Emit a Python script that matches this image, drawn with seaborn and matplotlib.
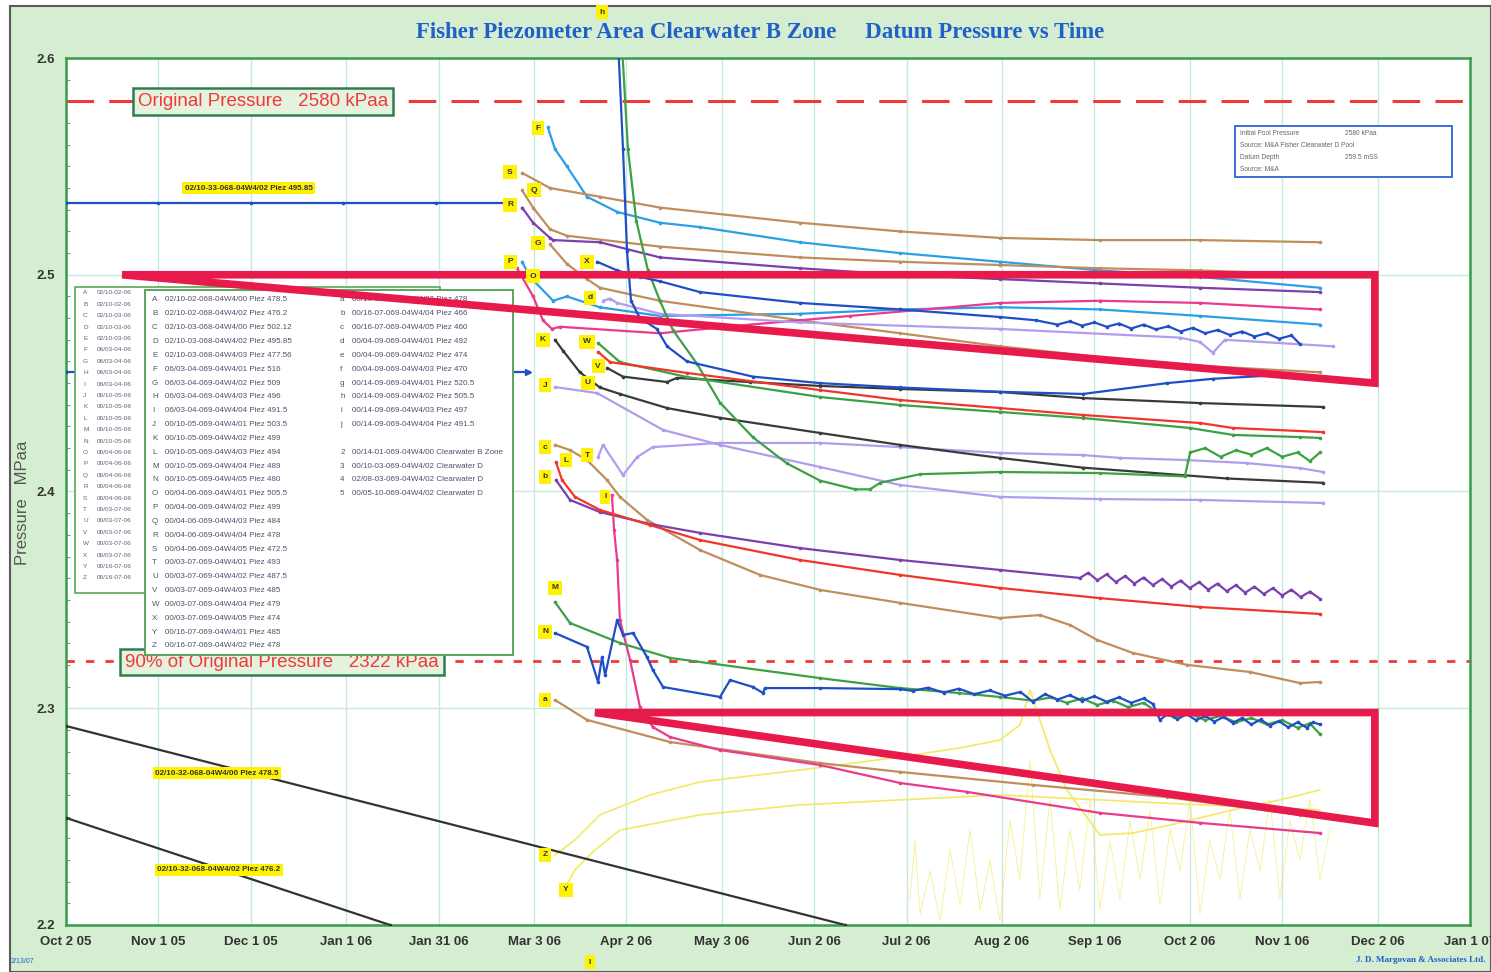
import pandas as pd
import matplotlib.pyplot as plt
import seaborn as sns
from matplotlib.patches import Rectangle, Polygon
from matplotlib.ticker import MultipleLocator

sns.set_style('white')
plt.rcParams['font.family'] = ['Liberation Sans', 'DejaVu Sans']

# eixo x: dias desde 2 Out 2005 ; eixo y: pressao em MPa
TICK_DIAS = [0, 30, 60, 91, 121, 152, 182, 213, 243, 273, 304, 334, 365, 395, 426, 456]
TICK_ROTULOS = ['Oct 2 05', 'Nov 1 05', 'Dec 1 05', 'Jan 1 06', 'Jan 31 06', 'Mar 3 06', 'Apr 2 06',
                'May 3 06', 'Jun 2 06', 'Jul 2 06', 'Aug 2 06', 'Sep 1 06', 'Oct 2 06', 'Nov 1 06',
                'Dec 2 06', 'Jan 1 07']

F_DIA = [156.5, 158.8, 162.7, 169.2, 179.0, 192.9, 205.9, 238.4, 270.9, 303.3, 335.8, 368.3, 407.3]
F_MPA = [2.568, 2.558, 2.550, 2.536, 2.529, 2.524, 2.522, 2.515, 2.510, 2.506, 2.502, 2.499, 2.494]

S_DIA = [148.1, 157.2, 173.4, 192.9, 238.4, 270.9, 303.3, 335.8, 368.3, 407.3]
S_MPA = [2.547, 2.540, 2.536, 2.531, 2.524, 2.520, 2.517, 2.516, 2.516, 2.515]

Q_DIA = [148.1, 151.7, 157.2, 162.7, 192.9, 238.4, 270.9, 303.3, 335.8, 368.3, 407.3]
Q_MPA = [2.539, 2.531, 2.521, 2.518, 2.513, 2.508, 2.506, 2.5045, 2.503, 2.502, 2.500]

R_DIA = [148.1, 151.7, 157.2, 158.2, 173.4, 192.9, 238.4, 270.9, 303.3, 335.8, 368.3, 407.3]
R_MPA = [2.531, 2.524, 2.517, 2.516, 2.515, 2.508, 2.503, 2.500, 2.498, 2.496, 2.494, 2.492]

G_DIA = [157.2, 162.7, 169.2, 173.4, 192.9, 238.4, 270.9, 303.3, 335.8, 368.3, 407.3]
G_MPA = [2.514, 2.505, 2.498, 2.494, 2.488, 2.479, 2.473, 2.467, 2.462, 2.458, 2.455]

P_DIA = [148.1, 150.7, 158.2, 162.7, 173.4, 192.9, 238.4, 270.9, 303.3, 335.8, 368.3, 407.3]
P_MPA = [2.506, 2.499, 2.488, 2.490, 2.485, 2.481, 2.482, 2.484, 2.485, 2.484, 2.481, 2.477]

O_DIA = [146.5, 151.7, 154.9, 157.8, 160.4, 192.9, 222.2, 254.6, 303.3, 335.8, 368.3, 407.3]
O_MPA = [2.503, 2.490, 2.479, 2.475, 2.476, 2.473, 2.477, 2.481, 2.487, 2.488, 2.487, 2.484]

X_DIA = [172.5, 179.0, 186.4, 192.9, 205.9, 238.4, 270.9, 303.3, 315, 322, 326, 330, 334, 338, 342,
         346, 350, 354, 358, 362, 366, 370, 374, 378, 382, 386, 390, 394, 398, 400.8]
X_MPA = [2.506, 2.502, 2.499, 2.497, 2.492, 2.487, 2.484, 2.4805, 2.479, 2.477, 2.4785, 2.4765, 2.478,
         2.476, 2.4775, 2.4752, 2.477, 2.4748, 2.4762, 2.4738, 2.4755, 2.473, 2.4745, 2.4722, 2.4738,
         2.4715, 2.473, 2.4705, 2.472, 2.468]

d_DIA = [174.4, 176.7, 179.0, 192.9, 238.4, 303.3, 361.8, 368.3, 372.5, 376.4, 411.5]
d_MPA = [2.488, 2.489, 2.487, 2.482, 2.478, 2.475, 2.471, 2.469, 2.464, 2.470, 2.467]

h_DIA = [178.9, 180.9, 182.2, 183.5, 186.4, 191.9, 195.2, 201.7, 223.1, 244.9, 270.9, 303.3, 330.3,
         357.6, 372.5, 397.5]
h_MPA = [2.620, 2.558, 2.511, 2.488, 2.480, 2.475, 2.467, 2.460, 2.453, 2.450, 2.448, 2.446, 2.445,
         2.450, 2.452, 2.454]

g_DIA = [180.0, 182.5, 185.2, 189.0, 192.9, 197.1, 204.9, 212.4, 223.1, 234.1, 244.9, 256.3, 261.1,
         264.4, 277.4, 303.3, 335.8, 363.4, 365.1, 370, 375, 380, 385, 390, 395, 400, 404, 407.3]
g_MPA = [2.620, 2.558, 2.525, 2.502, 2.488, 2.4745, 2.459, 2.441, 2.425, 2.413, 2.405, 2.401, 2.401,
         2.404, 2.408, 2.409, 2.4085, 2.407, 2.418, 2.420, 2.416, 2.419, 2.417, 2.420, 2.416, 2.418,
         2.414, 2.418]

K_DIA = [158.8, 161.4, 166.9, 173.4, 179.9, 195.2, 212.4, 244.9, 270.9, 303.3, 330.3, 377.1, 408.3]
K_MPA = [2.470, 2.465, 2.455, 2.448, 2.445, 2.4385, 2.434, 2.427, 2.4215, 2.4155, 2.411, 2.406, 2.404]

V_DIA = [175.7, 180.9, 195.2, 198.4, 222.2, 244.9, 270.9, 303.3, 330.3, 368.3, 408.3]
V_MPA = [2.457, 2.453, 2.4505, 2.4524, 2.4505, 2.4487, 2.4473, 2.4459, 2.4431, 2.4408, 2.439]

W_DIA = [172.8, 179.9, 201.7, 244.9, 270.9, 303.3, 330.3, 365.1, 379.0, 400.8, 407.3]
W_MPA = [2.4685, 2.4597, 2.4528, 2.4436, 2.4399, 2.4367, 2.4339, 2.4293, 2.4261, 2.4251, 2.4247]

VERM_DIA = [172.8, 176.7, 201.7, 244.9, 270.9, 303.3, 330.3, 368.3, 379.0, 408.3]
VERM_MPA = [2.4644, 2.4597, 2.4547, 2.4468, 2.4422, 2.4385, 2.4353, 2.4316, 2.4293, 2.4274]

J_DIA = [158.8, 172.5, 193.9, 212.4, 244.9, 270.9, 303.3, 335.8, 368.3, 408.3]
J_MPA = [2.4482, 2.4454, 2.4284, 2.4215, 2.4113, 2.4030, 2.3975, 2.3965, 2.3961, 2.3947]

T_DIA = [172.8, 174.4, 180.9, 185.5, 190.6, 212.4, 244.9, 270.9, 303.3, 330.3, 342.3, 364.1, 383.6,
         400.8, 408.3]
T_MPA = [2.4159, 2.4215, 2.4076, 2.4159, 2.4205, 2.4224, 2.4224, 2.4205, 2.4178, 2.4168, 2.4155,
         2.4145, 2.4131, 2.4108, 2.4090]

c_DIA = [158.8, 163.7, 169.2, 175.7, 179.9, 188.7, 205.9, 225.4, 244.9, 270.9, 303.3, 316.3, 326.1,
         334.9, 346.5, 364.1, 384.6, 400.8, 407.3]
c_MPA = [2.4215, 2.4191, 2.4145, 2.4053, 2.3975, 2.3869, 2.3730, 2.3615, 2.3546, 2.3486, 2.3416,
         2.3430, 2.3384, 2.3315, 2.3255, 2.3200, 2.3167, 2.3116, 2.3121]

L_DIA = [159.1, 161.1, 165.3, 173.4, 189.7, 205.9, 238.4, 270.9, 303.3, 335.8, 368.3, 407.3]
L_MPA = [2.4136, 2.4053, 2.3975, 2.3915, 2.3845, 2.3776, 2.3684, 2.3615, 2.3555, 2.3508, 2.3467,
         2.3435]

b_DIA = [159.1, 163.7, 173.4, 189.7, 205.9, 238.4, 270.9, 303.3, 329.3, 332, 335, 338, 341, 344, 347,
         350, 353, 356, 359, 362, 365, 368, 371, 374, 377, 380, 383, 386, 389, 392, 395, 398, 401,
         404, 407.3]
b_MPA = [2.4053, 2.3961, 2.3905, 2.3850, 2.3809, 2.3739, 2.3684, 2.3638, 2.3601, 2.3625, 2.3590,
         2.3618, 2.3582, 2.3610, 2.3575, 2.3603, 2.3568, 2.3596, 2.3561, 2.3589, 2.3554, 2.3582,
         2.3547, 2.3575, 2.3540, 2.3568, 2.3533, 2.3561, 2.3527, 2.3554, 2.3520, 2.3547, 2.3513,
         2.3538, 2.3505]

I_DIA = [177.3, 178.0, 179.0, 179.9, 183.2, 186.4, 190.6, 196.2, 212.4, 244.9, 270.9, 292.6, 335.8,
         368.3, 407.3]
I_MPA = [2.3984, 2.3822, 2.3684, 2.3407, 2.3223, 2.3006, 2.2913, 2.2867, 2.2807, 2.2738, 2.2655,
         2.2614, 2.2517, 2.2471, 2.2424]

M_DIA = [158.8, 163.7, 179.9, 196.2, 244.9, 270.9, 290, 303.3, 314, 320, 325, 330, 335, 340, 345,
         350, 355, 360, 365, 370, 375, 380, 385, 390, 395, 400, 404, 407.3]
M_MPA = [2.3490, 2.3393, 2.3301, 2.3232, 2.3139, 2.3093, 2.3070, 2.3052, 2.3035, 2.3050, 2.3025,
         2.3045, 2.3015, 2.3035, 2.3005, 2.3025, 2.2975, 2.2960, 2.2975, 2.2945, 2.2965, 2.2935,
         2.2955, 2.2925, 2.2945, 2.2910, 2.2930, 2.2880]

N_DIA = [158.8, 169.2, 172.8, 174.1, 175.1, 179.0, 180.9, 184.2, 188.7, 190.6, 193.9, 212.4, 215.7,
         223.1, 226.4, 227.0, 244.9, 270.9, 275, 280, 285, 290, 295, 300, 305, 310, 314, 318, 322,
         326, 330, 334, 338, 342, 346, 350, 353, 355.3, 358, 361, 364, 367, 370, 373, 376, 379, 382,
         385, 388, 391, 394, 397, 400, 403, 405, 407.3]
N_MPA = [2.3347, 2.3283, 2.3121, 2.3236, 2.3153, 2.3407, 2.3338, 2.3347, 2.3236, 2.3176, 2.3098,
         2.3052, 2.3130, 2.3098, 2.3070, 2.3093, 2.3093, 2.3088, 2.3080, 2.3095, 2.3072, 2.3090,
         2.3065, 2.3082, 2.3058, 2.3075, 2.3030, 2.3065, 2.3040, 2.3060, 2.3035, 2.3055, 2.3030,
         2.3050, 2.3025, 2.3045, 2.3020, 2.2946, 2.2975, 2.2950, 2.2972, 2.2945, 2.2965, 2.2938,
         2.2960, 2.2932, 2.2955, 2.2925, 2.2948, 2.2920, 2.2940, 2.2912, 2.2935, 2.2910, 2.2935,
         2.2925]

a_DIA = [158.8, 169.2, 196.2, 244.9, 270.9, 314.1, 357.6, 400.8, 407.3]
a_MPA = [2.3038, 2.2946, 2.2844, 2.2747, 2.2706, 2.2646, 2.2590, 2.2508, 2.2508]

Z_DIA = [158.8, 165.3, 173.4, 189.7, 205.9, 238.4, 270.9, 290.4, 303.3, 309.8, 313.1, 316.3, 319.6,
         325.1, 335.8, 346.5, 358.6, 379.0, 394.3, 407.3]
Z_MPA = [2.2323, 2.2392, 2.2508, 2.2600, 2.2660, 2.2715, 2.2775, 2.2817, 2.2853, 2.2923, 2.3084,
         2.2946, 2.2807, 2.2623, 2.2415, 2.2424, 2.2461, 2.2531, 2.2577, 2.2623]

Y_DIA = [162.1, 165.3, 171.8, 179.9, 205.9, 238.4, 270.9, 303.3, 335.8, 368.3, 407.3]
Y_MPA = [2.2171, 2.2254, 2.2346, 2.2438, 2.2508, 2.2554, 2.2577, 2.2600, 2.2577, 2.2554, 2.2531]

RUIDO_DIA = [274.1, 275.7, 277.4, 280.6, 283.9, 287.1, 290.4, 293.6, 296.9, 300.1, 303.3, 306.6,
             309.8, 313.1, 316.3, 319.6, 322.8, 326.1, 329.3, 332.6, 335.8, 339.1, 342.3, 345.6,
             348.8, 352.1, 355.3, 358.6, 361.8, 365.1, 368.3, 371.5, 374.8, 378.0, 381.3, 384.5,
             387.8, 391.0, 394.3, 397.5, 400.8, 404.0, 407.3, 410.5]
RUIDO_MPA = [2.212, 2.239, 2.205, 2.225, 2.202, 2.235, 2.209, 2.244, 2.207, 2.230, 2.202, 2.248,
             2.221, 2.276, 2.212, 2.258, 2.207, 2.244, 2.216, 2.258, 2.207, 2.239, 2.212, 2.248,
             2.221, 2.253, 2.209, 2.244, 2.225, 2.258, 2.205, 2.239, 2.221, 2.253, 2.212, 2.244,
             2.225, 2.258, 2.212, 2.248, 2.230, 2.258, 2.221, 2.244]

D_DIA = [0, 30, 60, 90, 120, 144]          # 02/10-33-068-04W4/02
D_MPA = [2.533, 2.533, 2.533, 2.533, 2.533, 2.533]
C_DIA = [0, 150]                            # escondida atras da legenda
C_MPA = [2.455, 2.455]
A00_DIA = [0, 253]                          # 02/10-32-068-04W4/00
A00_MPA = [2.2918, 2.2]
A02_DIA = [0, 105.2]                        # 02/10-32-068-04W4/02
A02_MPA = [2.2494, 2.2]

P_ORIGINAL = 2.580
P_90 = 2.322

# triangulos vermelhos desenhados a mao
TRI1_DIA = [18.2, 425.1, 425.1]
TRI1_MPA = [2.500, 2.500, 2.450]
TRI2_DIA = [171.8, 425.1, 425.1]
TRI2_MPA = [2.298, 2.298, 2.247]

SERIES = [
    (D_DIA, D_MPA, '#1F4FC6'), (C_DIA, C_MPA, '#1F4FC6'),
    (A00_DIA, A00_MPA, '#333333'), (A02_DIA, A02_MPA, '#333333'),
    (F_DIA, F_MPA, '#2A9FE6'), (P_DIA, P_MPA, '#2A9FE6'),
    (S_DIA, S_MPA, '#C08E5C'), (Q_DIA, Q_MPA, '#C08E5C'), (G_DIA, G_MPA, '#C08E5C'),
    (c_DIA, c_MPA, '#C08E5C'), (a_DIA, a_MPA, '#C08E5C'),
    (R_DIA, R_MPA, '#7B3FAE'), (b_DIA, b_MPA, '#7B3FAE'),
    (O_DIA, O_MPA, '#EA3A8E'), (I_DIA, I_MPA, '#EA3A8E'),
    (d_DIA, d_MPA, '#B39CEF'), (J_DIA, J_MPA, '#B39CEF'), (T_DIA, T_MPA, '#B39CEF'),
    (K_DIA, K_MPA, '#3A3A3A'), (V_DIA, V_MPA, '#3A3A3A'),
    (W_DIA, W_MPA, '#3CA044'), (g_DIA, g_MPA, '#3CA044'), (M_DIA, M_MPA, '#3CA044'),
    (VERM_DIA, VERM_MPA, '#F2352B'), (L_DIA, L_MPA, '#F2352B'),
    (X_DIA, X_MPA, '#1F4FC6'), (h_DIA, h_MPA, '#1F4FC6'), (N_DIA, N_MPA, '#1F4FC6'),
]

LETRAS = ['F', 'S', 'Q', 'R', 'G', 'P', 'O', 'X', 'd', 'K', 'W', 'V', 'U', 'J', 'c', 'L', 'T', 'b',
          'I', 'M', 'N', 'a', 'Z', 'Y', 'h', 'I']
LETRA_DIA = [153.3, 144.2, 152.0, 144.2, 153.3, 144.2, 151.7, 169.2, 170.2, 154.9, 169.2, 172.8,
             169.5, 155.6, 155.6, 162.4, 169.2, 155.6, 175.1, 158.8, 155.6, 155.6, 155.6, 162.4,
             174.1, 170.2]
LETRA_MPA = [2.5677, 2.5474, 2.5391, 2.5322, 2.5146, 2.5059, 2.4994, 2.5059, 2.4893, 2.4699, 2.4690,
             2.4579, 2.4501, 2.4491, 2.4205, 2.4145, 2.4168, 2.4067, 2.3975, 2.3555, 2.3352, 2.3038,
             2.2323, 2.2162, 2.6212, 2.1829]

POCO_ROTULOS = ['02/10-33-068-04W4/02 Piez 495.85', '02/10-32-068-04W4/00 Piez 478.5',
                '02/10-32-068-04W4/02 Piez 476.2']
POCO_DIA = [38.6, 28.9, 29.6]
POCO_MPA = [2.540, 2.2701, 2.2254]

LEG_LETRAS = list('ABCDEFGHIJKLMNOPQRSTUVWXYZ')
LEG_TEXTO = ['02/10-02-068-04W4/00 Piez 478.5', '02/10-02-068-04W4/02 Piez 476.2',
             '02/10-03-068-04W4/00 Piez 502.12', '02/10-03-068-04W4/02 Piez 495.85',
             '02/10-03-068-04W4/03 Piez 477.56', '06/03-04-069-04W4/01 Piez 516',
             '06/03-04-069-04W4/02 Piez 509', '06/03-04-069-04W4/03 Piez 496',
             '06/03-04-069-04W4/04 Piez 491.5', '00/10-05-069-04W4/01 Piez 503.5',
             '00/10-05-069-04W4/02 Piez 499', '00/10-05-069-04W4/03 Piez 494',
             '00/10-05-069-04W4/04 Piez 489', '00/10-05-069-04W4/05 Piez 480',
             '00/04-06-069-04W4/01 Piez 505.5', '00/04-06-069-04W4/02 Piez 499',
             '00/04-06-069-04W4/03 Piez 484', '00/04-06-069-04W4/04 Piez 478',
             '00/04-06-069-04W4/05 Piez 472.5', '00/03-07-069-04W4/01 Piez 493',
             '00/03-07-069-04W4/02 Piez 487.5', '00/03-07-069-04W4/03 Piez 485',
             '00/03-07-069-04W4/04 Piez 479', '00/03-07-069-04W4/05 Piez 474',
             '00/16-07-069-04W4/01 Piez 485', '00/16-07-069-04W4/02 Piez 478']
LEG2_LINHA = [0, 1, 2, 3, 4, 5, 6, 7, 8, 9, 11, 12, 13, 14]
LEG2_LETRAS = ['a', 'b', 'c', 'd', 'e', 'f', 'g', 'h', 'i', 'j', '2', '3', '4', '5']
LEG2_TEXTO = ['00/16-07-069-04W4/03 Piez 478', '00/16-07-069-04W4/04 Piez 466',
              '00/16-07-069-04W4/05 Piez 460', '00/04-09-069-04W4/01 Piez 492',
              '00/04-09-069-04W4/02 Piez 474', '00/04-09-069-04W4/03 Piez 470',
              '00/14-09-069-04W4/01 Piez 520.5', '00/14-09-069-04W4/02 Piez 505.5',
              '00/14-09-069-04W4/03 Piez 497', '00/14-09-069-04W4/04 Piez 491.5',
              '00/14-01-069-04W4/00 Clearwater B Zone', '00/10-03-069-04W4/02 Clearwater D',
              '02/08-03-069-04W4/02 Clearwater D', '00/05-10-069-04W4/02 Clearwater D']
INFO = [('Initial Pool Pressure', '2580 kPaa'), ('Source: M&A Fisher Clearwater D Pool', ''),
        ('Datum Depth', '259.5 mSS'), ('Source: M&A', '')]

fig = plt.figure(figsize=(14.91, 9.72), dpi=100, facecolor='white')
fig.patches.append(Rectangle((0.007, 0.0), 0.993, 0.994, transform=fig.transFigure,
                             fc='#D5EDD0', ec='#5a5a5a', lw=1.5, zorder=-10))
ax = fig.add_axes([0.0443, 0.0484, 0.9416, 0.8919])
ax.set_facecolor('white')

for dias, mpa, cor in SERIES:
    df = pd.DataFrame({'dia': dias, 'mpa': mpa})
    sns.lineplot(data=df, x='dia', y='mpa', color=cor, linewidth=1.6, marker='o', markersize=2.6,
                 markeredgewidth=0, estimator=None, sort=False, ax=ax, zorder=3)

for dias, mpa, lw, alfa in [(Z_DIA, Z_MPA, 1.2, 1.0), (Y_DIA, Y_MPA, 1.2, 1.0),
                            (RUIDO_DIA, RUIDO_MPA, 0.6, 0.7)]:
    df = pd.DataFrame({'dia': dias, 'mpa': mpa})
    sns.lineplot(data=df, x='dia', y='mpa', color='#F2EA62', linewidth=lw, alpha=alfa,
                 estimator=None, sort=False, ax=ax, zorder=2)

ax.plot(C_DIA[-1], C_MPA[-1], marker='>', color='#1F4FC6', markersize=5, zorder=3)

ax.axhline(P_ORIGINAL, color='#F03A3A', lw=2.2, dashes=(9, 5), zorder=2)
ax.axhline(P_90, color='#F03A3A', lw=2.0, dashes=(3, 4), zorder=2)

for tx, ty in [(TRI1_DIA, TRI1_MPA), (TRI2_DIA, TRI2_MPA)]:
    ax.add_patch(Polygon(list(zip(tx, ty)), closed=True, fill=False, ec='#E8194B', lw=5.5,
                         joinstyle='miter', zorder=9))

# caixas de pressao original / 90%
caixa = dict(boxstyle='square,pad=0.25', fc='#E4F2DE', ec='#2E7D4F', lw=1.8)
ax.text(23.4, P_ORIGINAL, 'Original Pressure   2580 kPaa', fontsize=13.5, color='#F03A3A',
        va='center', ha='left', bbox=caixa, zorder=6)
ax.text(19.2, 2.3213, '90% of Original Pressure   2322 kPaa', fontsize=13.5, color='#F03A3A',
        va='center', ha='left', bbox=caixa, zorder=4)

# etiquetas amarelas
for letra, xd, yp in zip(LETRAS, LETRA_DIA, LETRA_MPA):
    ax.text(xd, yp, letra, fontsize=6, fontweight='bold', color='#333333', ha='center', va='center',
            bbox=dict(boxstyle='square,pad=0.45', fc='#FFF200', ec='none'), zorder=10, clip_on=False)
for rot, xd, yp in zip(POCO_ROTULOS, POCO_DIA, POCO_MPA):
    ax.text(xd, yp, rot, fontsize=5.8, fontweight='bold', color='#333333', ha='left', va='center',
            bbox=dict(boxstyle='square,pad=0.3', fc='#FFF200', ec='none'), zorder=10)

# legenda de tras (so aparece a parte esquerda)
ax.add_patch(Rectangle((0.0064, 0.3829), 0.26, 0.353, transform=ax.transAxes, fc='white',
                       ec='#5AA55A', lw=1.2, zorder=6))
for i, (l, t) in enumerate(zip(LEG_LETRAS, LEG_TEXTO)):
    yy = 0.729 - i * 0.01315
    ax.text(0.0121, yy, l, transform=ax.transAxes, fontsize=4.6, color='#6a5a78', va='center', zorder=6.1)
    ax.text(0.0221, yy, t[:11], transform=ax.transAxes, fontsize=4.6, color='#6a5a78', va='center',
            zorder=6.1)

# legenda da frente
ax.add_patch(Rectangle((0.0563, 0.3114), 0.2621, 0.421, transform=ax.transAxes, fc='white',
                       ec='#5AA55A', lw=1.4, zorder=7))
for i, (l, t) in enumerate(zip(LEG_LETRAS, LEG_TEXTO)):
    yy = 0.7209 - i * 0.01596
    ax.text(0.0613, yy, l, transform=ax.transAxes, fontsize=5.8, color='#5a4a6a', va='center', zorder=7.1)
    ax.text(0.0705, yy, t, transform=ax.transAxes, fontsize=5.8, color='#5a4a6a', va='center', zorder=7.1)
for i, l, t in zip(LEG2_LINHA, LEG2_LETRAS, LEG2_TEXTO):
    yy = 0.7209 - i * 0.01596
    ax.text(0.1952, yy, l, transform=ax.transAxes, fontsize=5.8, color='#5a4a6a', va='center', zorder=7.1)
    ax.text(0.2037, yy, t, transform=ax.transAxes, fontsize=5.8, color='#5a4a6a', va='center', zorder=7.1)

# caixa de informacao
ax.add_patch(Rectangle((0.8326, 0.8627), 0.1546, 0.0589, transform=ax.transAxes, fc='white',
                       ec='#3A6FD8', lw=1.4, zorder=7))
for i, (a, b) in enumerate(INFO):
    yy = 0.9135 - i * 0.0142
    ax.text(0.8362, yy, a, transform=ax.transAxes, fontsize=4.8, color='#666666', va='center', zorder=7.1)
    ax.text(0.911, yy, b, transform=ax.transAxes, fontsize=4.8, color='#666666', va='center', zorder=7.1)

ax.set_xlim(0, 456)
ax.set_ylim(2.2, 2.6)
ax.set_xticks(TICK_DIAS)
ax.set_xticklabels(TICK_ROTULOS)
ax.set_yticks([2.2, 2.3, 2.4, 2.5, 2.6])
ax.set_yticklabels(['2.2', '2.3', '2.4', '2.5', '2.6'])
ax.yaxis.set_minor_locator(MultipleLocator(0.01))
ax.tick_params(axis='both', which='major', direction='in', length=5, width=1, color='#3C9A50',
               labelsize=9.5, labelcolor='#333333', pad=8)
ax.tick_params(axis='y', which='minor', direction='in', length=3, color='#3C9A50', left=True)
for lab in ax.get_xticklabels() + ax.get_yticklabels():
    lab.set_fontweight('bold')
ax.set_axisbelow(True)
ax.grid(True, which='major', color='#C3EADC', lw=1.0)
for s in ax.spines.values():
    s.set_color('#3C9A50')
    s.set_linewidth(1.8)
ax.set_xlabel('')
ax.set_ylabel('')

fig.text(0.5097, 0.967, 'Fisher Piezometer Area Clearwater B Zone     Datum Pressure vs Time',
         ha='center', va='center', fontsize=16.5, fontweight='bold', color='#2060C8',
         family='Liberation Serif')
fig.text(0.0148, 0.483, 'Pressure   MPaa', rotation=90, ha='center', va='center', fontsize=12,
         color='#555555')
fig.text(0.007, 0.011, '2/13/07', fontsize=5, color='#2060C8', ha='left', va='center')
fig.text(0.996, 0.012, 'J. D. Margovan & Associates Ltd.', fontsize=6.5, color='#2060C8',
         fontweight='bold', family='Liberation Serif', ha='right', va='center')

plt.savefig('out.png', dpi=100)
plt.close()
